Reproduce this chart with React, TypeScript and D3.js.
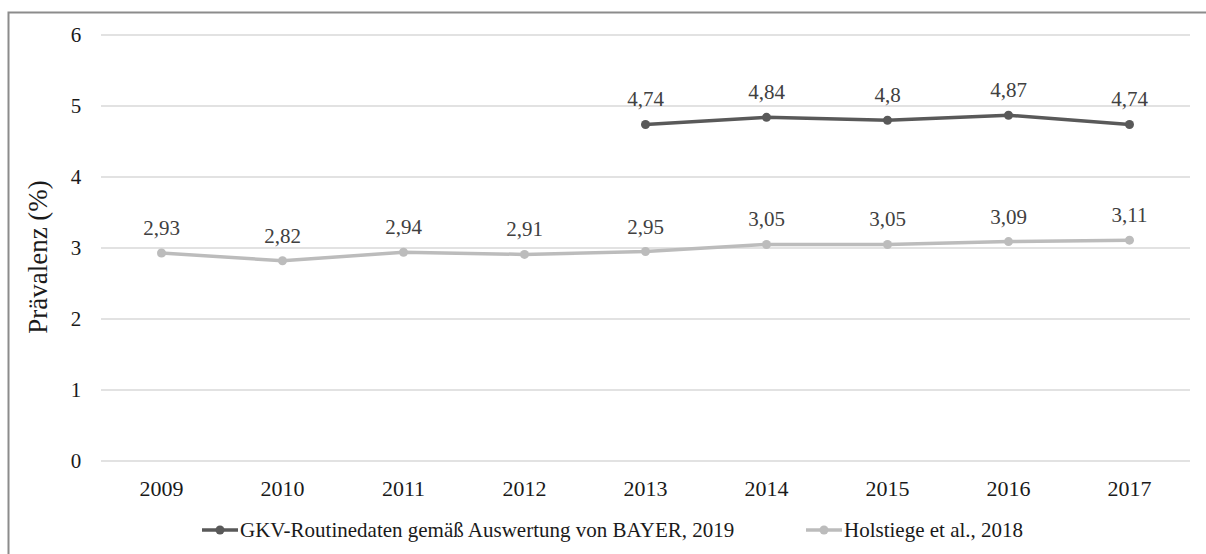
import React from "react";
import * as d3 from "d3";

const years = ["2009", "2010", "2011", "2012", "2013", "2014", "2015", "2016", "2017"];
const gkvValues: (number | null)[] = [null, null, null, null, 4.74, 4.84, 4.8, 4.87, 4.74];
const holstiegeValues: (number | null)[] = [2.93, 2.82, 2.94, 2.91, 2.95, 3.05, 3.05, 3.09, 3.11];
const yTicks = [0, 1, 2, 3, 4, 5, 6];
const gkvName = "GKV-Routinedaten gemäß Auswertung von BAYER, 2019";
const holstiegeName = "Holstiege et al., 2018";

const W = 1206;
const H = 554;
const FONT = "'Liberation Serif', 'Times New Roman', serif";

export default function App() {
  const x = d3.scaleBand<string>().domain(years).range([101, 1190]);
  const y = d3.scaleLinear().domain([0, 6]).range([461, 35]);
  const cx = (yr: string) => (x(yr) ?? 0) + x.bandwidth() / 2;
  const fmt = (v: number) => String(v).replace(".", ",");

  const series = [
    { name: gkvName, values: gkvValues, color: "#595959" },
    { name: holstiegeName, values: holstiegeValues, color: "#bcbcbc" },
  ];

  const line = d3
    .line<[string, number | null]>()
    .defined((d) => d[1] != null)
    .x((d) => cx(d[0]))
    .y((d) => y(d[1] as number));

  const legendItems = [
    { name: gkvName, color: "#595959", x: 202 },
    { name: holstiegeName, color: "#bcbcbc", x: 806 },
  ];

  return (
    <svg width={W} height={H} style={{ position: "absolute", left: 0, top: 0, background: "#fff" }} fontFamily={FONT}>
      <rect x={0} y={0} width={W} height={H} fill="#fff" />
      {/* outer frame */}
      <rect x={8.5} y={12.5} width={W + 10} height={H + 10} fill="none" stroke="#8c8c8c" strokeWidth={2} />

      {/* gridlines and y tick labels */}
      {yTicks.map((t) => (
        <g key={t}>
          <line x1={101} x2={1190} y1={y(t)} y2={y(t)} stroke="#d9d9d9" strokeWidth={1.3} />
          <text x={76} y={y(t)} dy="0.33em" textAnchor="middle" fontSize={21} fill="#1a1a1a">
            {t}
          </text>
        </g>
      ))}

      {/* x tick labels */}
      {years.map((yr) => (
        <text key={yr} x={cx(yr)} y={496} textAnchor="middle" fontSize={22} fill="#1a1a1a">
          {yr}
        </text>
      ))}

      {/* y-axis title */}
      <text
        transform={`translate(47, 257) rotate(-90)`}
        textAnchor="middle"
        fontSize={27}
        fill="#1a1a1a"
      >
        Prävalenz (%)
      </text>

      {/* series */}
      {series.map((s) => {
        const pts = years.map((yr, i) => [yr, s.values[i]] as [string, number | null]);
        return (
          <g key={s.name}>
            <path d={line(pts) ?? ""} fill="none" stroke={s.color} strokeWidth={3.5} strokeLinejoin="round" />
            {pts
              .filter((p) => p[1] != null)
              .map((p) => (
                <g key={p[0]}>
                  <circle cx={cx(p[0])} cy={y(p[1] as number)} r={4.5} fill={s.color} />
                  <text
                    x={cx(p[0])}
                    y={y(p[1] as number) - 18}
                    textAnchor="middle"
                    fontSize={21}
                    fill="#404040"
                  >
                    {fmt(p[1] as number)}
                  </text>
                </g>
              ))}
          </g>
        );
      })}

      {/* legend */}
      {legendItems.map((l) => (
        <g key={l.name}>
          <line x1={l.x} x2={l.x + 36} y1={530} y2={530} stroke={l.color} strokeWidth={3.5} />
          <circle cx={l.x + 18} cy={530} r={4.5} fill={l.color} />
          <text x={l.x + 38} y={537} fontSize={21} fill="#1a1a1a">
            {l.name}
          </text>
        </g>
      ))}
    </svg>
  );
}
